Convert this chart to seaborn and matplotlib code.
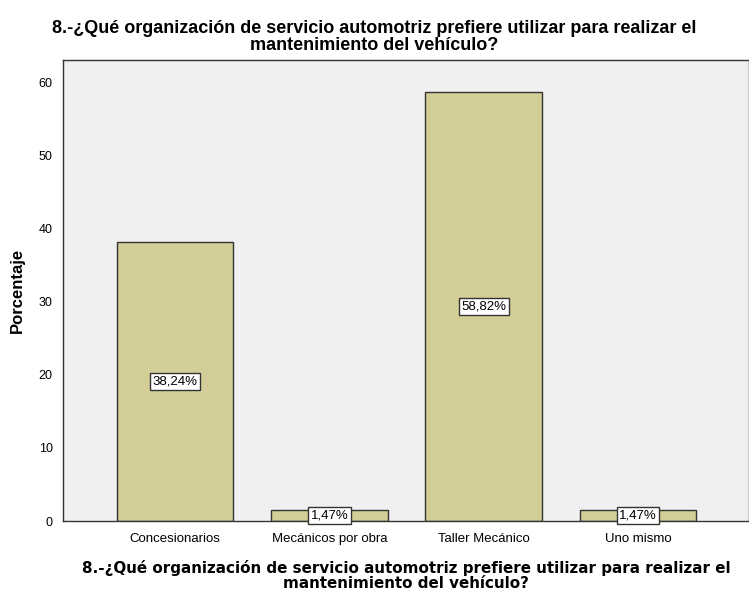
import matplotlib
matplotlib.use("Agg")
import matplotlib.pyplot as plt
import seaborn as sns
import pandas as pd

categorias = ["Concesionarios", "Mecánicos por obra", "Taller Mecánico", "Uno mismo"]
porcentajes = [38.24, 1.47, 58.82, 1.47]
etiquetas = ["38,24%", "1,47%", "58,82%", "1,47%"]
titulo = "8.-¿Qué organización de servicio automotriz prefiere utilizar para realizar el\nmantenimiento del vehículo?"

sns.set_style("white")
plt.rcParams['font.family'] = ['Liberation Sans', 'DejaVu Sans']
plt.rcParams['text.color'] = 'black'
plt.rcParams['xtick.color'] = 'black'
plt.rcParams['ytick.color'] = 'black'
plt.rcParams['axes.labelcolor'] = 'black'

df = pd.DataFrame({"cat": categorias, "pct": porcentajes})

fig = plt.figure(figsize=(7.49, 5.93), dpi=100)
ax = fig.add_axes([63/749, 72/593, 1 - 63/749, (521-60)/593])
ax.set_facecolor("#F0F0F0")

sns.barplot(data=df, x="cat", y="pct", color="#D3CE97", width=0.755,
            edgecolor="#333333", linewidth=1.0, saturation=1, ax=ax)

for i, (v, t) in enumerate(zip(porcentajes, etiquetas)):
    ax.text(i, v / 2, t, ha="center", va="center", fontsize=9.5,
            bbox=dict(boxstyle="square,pad=0.18", facecolor="white", edgecolor="#333333", linewidth=1.0))

ax.set_xlim(-0.727, 3.72)
ax.set_ylim(0, 63.15)
ax.set_yticks([0, 10, 20, 30, 40, 50, 60])
ax.tick_params(axis="both", direction="out", length=5.5, width=1, color="#333333", pad=2)
ax.tick_params(axis="y", labelsize=9)
ax.tick_params(axis="x", labelsize=9.5, pad=3)
for s in ax.spines.values():
    s.set_color("#333333")
    s.set_linewidth(1.0)

ax.set_ylabel("Porcentaje", fontsize=12, fontweight="bold")
ax.yaxis.set_label_coords((25 - 63) / 686, 0.5)
ax.set_xlabel(titulo, fontsize=10.9, fontweight="bold", family=["DejaVu Sans"], linespacing=1.0, labelpad=11)
fig.suptitle(titulo, fontsize=13, fontweight="bold", y=0.966, linespacing=1.0)

fig.savefig("out.png", dpi=100, facecolor="white")
